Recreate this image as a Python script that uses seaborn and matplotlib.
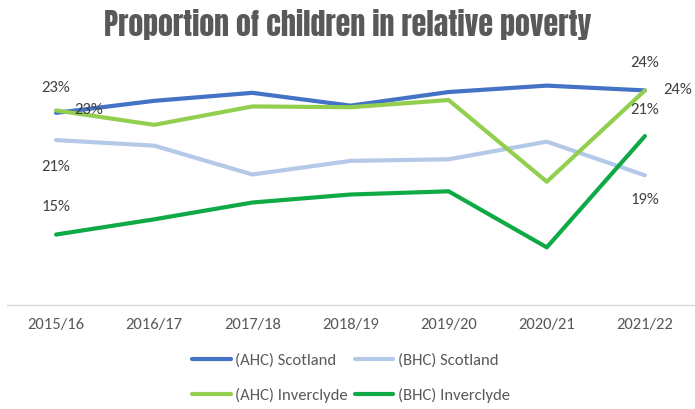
import matplotlib
matplotlib.use("Agg")
import matplotlib.pyplot as plt
import seaborn as sns
import pandas as pd
from matplotlib.lines import Line2D

# Child poverty rates (%), before (BHC) and after (AHC) housing costs
years = ["2015/16", "2016/17", "2017/18", "2018/19", "2019/20", "2020/21", "2021/22"]
ahc_scotland = [22.6, 23.35, 23.85, 23.05, 23.9, 24.3, 24.0]
bhc_scotland = [20.9, 20.55, 18.75, 19.6, 19.7, 20.8, 18.7]
ahc_inverclyde = [22.75, 21.85, 23.0, 22.95, 23.4, 18.3, 24.0]
bhc_inverclyde = [15.0, 15.95, 17.0, 17.5, 17.7, 14.2, 21.15]

series_names = ["(AHC) Scotland", "(BHC) Scotland", "(AHC) Inverclyde", "(BHC) Inverclyde"]
series_values = [ahc_scotland, bhc_scotland, ahc_inverclyde, bhc_inverclyde]
colors = ["#4472C4", "#B4C9E8", "#92CF4E", "#0FAA45"]

rows = []
for name, vals in zip(series_names, series_values):
    for i, v in enumerate(vals):
        rows.append({"year_idx": i, "year": years[i], "series": name, "value": v})
df = pd.DataFrame(rows)

sns.set_theme(style="white")
plt.rcParams["font.family"] = ["Carlito", "DejaVu Sans"]

fig = plt.figure(figsize=(6.95, 4.09), dpi=100)
ax = fig.add_axes([7 / 695, 1 - 305 / 409, 687 / 695, 245 / 409])

sns.lineplot(data=df, x="year_idx", y="value", hue="series", hue_order=series_names,
             palette=colors, linewidth=3, legend=False, ax=ax, sort=False)

ax.set_xlim(-0.5, len(years) - 0.5)
ax.set_ylim(10.6, 25.9)
ax.set_xticks(range(len(years)))
ax.set_xticklabels(years, fontsize=12, color="#595959")
ax.tick_params(axis="x", length=0, pad=9)
ax.set_yticks([])
ax.set_xlabel("")
ax.set_ylabel("")
for side in ["top", "left", "right"]:
    ax.spines[side].set_visible(False)
ax.spines["bottom"].set_color("#D9D9D9")
ax.spines["bottom"].set_linewidth(1)

# Data labels at first and last year: (series index, point index, dx px, dy px)
px = 0.72
label_specs = [
    (0, 0, 0, 25), (2, 0, 33, 0), (1, 0, 0, -27), (3, 0, 0, 28),
    (0, 6, 0, 27), (2, 6, 33, 0), (3, 6, 0, 26), (1, 6, 0, -25),
]
for s, i, dx, dy in label_specs:
    v = series_values[s][i]
    ax.annotate(f"{v:.0f}%", xy=(i, v), xytext=(dx * px, dy * px),
                textcoords="offset points", ha="center", va="center",
                fontsize=12, color="#404040", annotation_clip=False)

fig.text(0.5, 1 - 25 / 409, "Proportion of children in relative poverty",
         ha="center", va="center", fontsize=21.5,
         color="#595959", family=["Anton", "DejaVu Sans"])

# Excel-style legend order: rows read left to right
order = [0, 2, 1, 3]
handles = [Line2D([0], [0], color=colors[k], lw=3) for k in order]
labels = [series_names[k] for k in order]
leg = fig.legend(handles, labels, ncol=2, loc="center",
                 bbox_to_anchor=(0.505, 1 - 378 / 409), frameon=False,
                 fontsize=12, handlelength=2.3, handletextpad=0.25,
                 columnspacing=0.45, labelspacing=1.2)
for t in leg.get_texts():
    t.set_color("#595959")

fig.savefig("out.png", dpi=100)
